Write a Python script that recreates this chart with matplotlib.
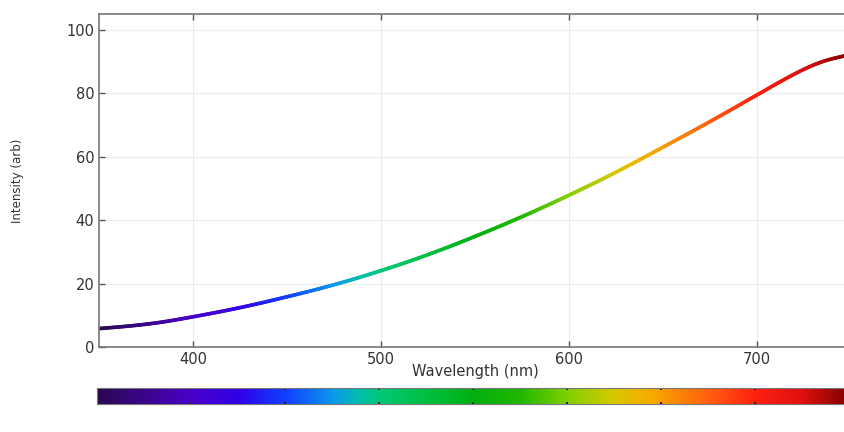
import numpy as np
import matplotlib.pyplot as plt
from matplotlib.collections import LineCollection
from matplotlib.colors import LinearSegmentedColormap, Normalize

# --- Spectrum ---
wavelength = [350, 360, 375, 390, 400, 425, 450, 475, 500, 525, 550, 575,
              600, 625, 650, 675, 700, 715, 725, 735, 745, 750]
intensity = [5.8, 6.3, 7.0, 8.4, 9.5, 12.3, 15.8, 19.5, 24.0, 29.0, 34.8, 41.0,
             47.8, 55.0, 63.0, 71.0, 79.5, 84.5, 88.0, 90.5, 92.0, 92.2]

x_ticks = [400, 500, 600, 700]
y_ticks = [0, 20, 40, 60, 80, 100]
bar_ticks = [400, 450, 500, 550, 600, 650, 700]

# spectral colour stops (wavelength, colour)
stop_nm = [350, 400, 425, 450, 475, 490, 500, 525, 550, 575, 600, 625, 645,
           675, 700, 725, 750]
stop_col = ['#2a0a50', '#4a00c8', '#3000e8', '#1040ff', '#0c98ec', '#00c0a8',
            '#00c878', '#00c040', '#00b010', '#20b800', '#80d000', '#d8c800',
            '#f8aa00', '#ff6010', '#ff2010', '#e01010', '#800000']

lo, hi = 350, 750
cmap = LinearSegmentedColormap.from_list(
    'spec', [((n - lo) / (hi - lo), c) for n, c in zip(stop_nm, stop_col)])
norm = Normalize(lo, hi)

fig = plt.figure(figsize=(8.44, 4.32), dpi=100)
ax = fig.add_axes([0.1173, 0.1968, 0.891, 0.7708])

# dense copy of the points, lightly smoothed so the line has no kinks
xs = np.linspace(lo, hi, 401)
ys = np.interp(xs, wavelength, intensity)
k = 15
pad = np.concatenate([2 * ys[0] - ys[k:0:-1], ys, 2 * ys[-1] - ys[-2:-k - 2:-1]])
ys = np.convolve(pad, np.ones(2 * k + 1) / (2 * k + 1), mode='valid')

pts = np.column_stack([xs, ys]).reshape(-1, 1, 2)
segs = np.concatenate([pts[:-1], pts[1:]], axis=1)
lc = LineCollection(segs, cmap=cmap, norm=norm, linewidth=2.6, capstyle='round')
lc.set_array((xs[:-1] + xs[1:]) / 2)
ax.add_collection(lc)

ax.set_xlim(lo, hi)
ax.set_ylim(0, 105)
ax.set_xticks(x_ticks)
ax.set_yticks(y_ticks)
ax.grid(True, color='#ebebeb', linewidth=0.8)
ax.set_axisbelow(True)
for s in ax.spines.values():
    s.set_color('#777777')
    s.set_linewidth(1.2)
ax.tick_params(direction='in', length=4, width=1, color='#555555',
               top=True, right=True, labelsize=10.5, labelcolor='#333333')
ax.set_xlabel('Wavelength (nm)', fontsize=10.5, color='#333333', labelpad=-2)
ax.set_ylabel('Intensity (arb)', fontsize=8.5, color='#333333')
ax.yaxis.set_label_coords(-0.1, 0.5)

# --- colour bar under the plot ---
cax = fig.add_axes([0.115, 0.0648, 0.891, 0.037])
grad = np.linspace(lo, hi, 512).reshape(1, -1)
cax.imshow(grad, aspect='auto', cmap=cmap, norm=norm, extent=[lo, hi, 0, 1])
cax.set_xlim(lo, hi)
cax.set_xticks(bar_ticks)
cax.set_xticklabels([])
cax.set_yticks([])
cax.tick_params(direction='in', length=1.5, width=1.5, color='#222222', top=True)
for s in cax.spines.values():
    s.set_color('#777777')
    s.set_linewidth(0.8)

fig.savefig('out.png', dpi=100)
